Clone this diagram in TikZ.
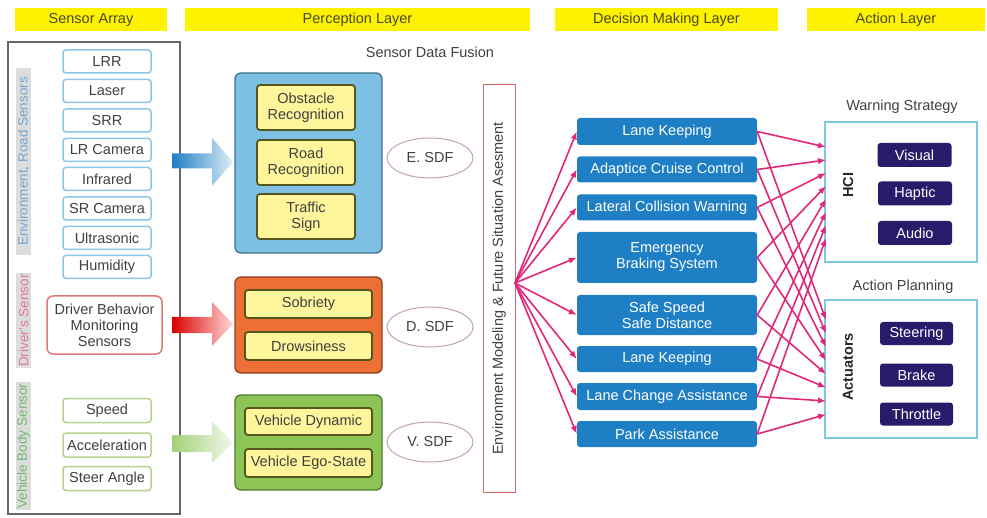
\documentclass[tikz,border=0pt]{standalone}
\usepackage{fontspec}
\setmainfont{Liberation Sans}
\usetikzlibrary{arrows.meta,shapes.geometric}
\definecolor{hdrY}{HTML}{FFF200}
\definecolor{hdrT}{HTML}{4A4A18}
\definecolor{txtG}{HTML}{404040}
\definecolor{sensB}{HTML}{8CC6E8}
\definecolor{drvB}{HTML}{E07878}
\definecolor{vehB}{HTML}{B4D48C}
\definecolor{stripG}{HTML}{DCDCDC}
\definecolor{envT}{HTML}{6FA8D8}
\definecolor{drvT}{HTML}{E07890}
\definecolor{vehT}{HTML}{70B870}
\definecolor{pBlue}{HTML}{7DC0E4}
\definecolor{pBlueB}{HTML}{3F6F8C}
\definecolor{pOr}{HTML}{EC7035}
\definecolor{pOrB}{HTML}{8A3E1E}
\definecolor{pGr}{HTML}{8CC556}
\definecolor{pGrB}{HTML}{4C7A30}
\definecolor{inY}{HTML}{FFF59A}
\definecolor{inYB}{HTML}{55551E}
\definecolor{ellB}{HTML}{C4A4A4}
\definecolor{envB}{HTML}{D46A6A}
\definecolor{decB}{HTML}{1F7FC4}
\definecolor{actB}{HTML}{7EC8E3}
\definecolor{navy}{HTML}{2A1B6A}
\definecolor{pink}{HTML}{E0287A}
\begin{document}
\begin{tikzpicture}[x=1pt,y=-1pt,
  font=\fontsize{14.5}{16}\selectfont,
  hdr/.style={fill=hdrY, text=hdrT, inner sep=0pt, minimum height=23pt},
  sens/.style={draw=sensB, line width=1.5pt, rounded corners=3pt, fill=white,
    minimum width=88pt, minimum height=23pt, text=txtG, inner sep=0pt},
  vsens/.style={sens, draw=vehB, minimum height=24pt},
  strip/.style={rotate=90, fill=stripG, minimum height=15pt, inner sep=0pt,
    font=\fontsize{13.5}{15}\selectfont},
  pbox/.style={rounded corners=6pt, line width=1.3pt},
  inbox/.style={draw=inYB, fill=inY, line width=1.8pt, rounded corners=3pt,
    text=txtG, align=center, inner sep=0pt},
  sdf/.style={ellipse, draw=ellB, line width=1pt, fill=white, minimum width=86pt,
    minimum height=40pt, inner sep=0pt, text=txtG},
  dec/.style={fill=decB, rounded corners=3pt, text=white, align=center,
    minimum width=180pt, inner sep=0pt},
  grp/.style={draw=actB, line width=1.5pt, fill=white},
  nav/.style={fill=navy, rounded corners=3pt, text=white, minimum width=74pt,
    minimum height=24pt, inner sep=0pt},
  parrow/.style={draw=pink, line width=1.6pt, -{Latex[length=8pt,width=6.5pt]}}
]
\useasboundingbox (0,0) rectangle (987,518);
% headers
\node[hdr, minimum width=152pt] (hsa) at (91,19.5) {Sensor Array};
\node[hdr, minimum width=345pt] (hpl) at (357.5,19.5) {Perception Layer};
\node[hdr, minimum width=223pt] (hdm) at (666.5,19.5) {Decision Making Layer};
\node[hdr, minimum width=178pt] (hal) at (896,19.5) {Action Layer};
% sensor array frame
\draw[draw=black!60, line width=1.2pt] (8,42) rectangle (180,514);
\node[strip, minimum width=187pt, text=envT] (senv) at (23.5,161.5) {Environment, Road Sensors};
\node[strip, minimum width=95pt, text=drvT] (sdrv) at (23.5,320.5) {Driver's Sensor};
\node[strip, minimum width=128pt, text=vehT] (sveh) at (23.5,446) {Vehicle Body Sensor};
\node[sens] (s1) at (107,61.5) {LRR};
\node[sens] (s2) at (107,91) {Laser};
\node[sens] (s3) at (107,120.5) {SRR};
\node[sens] (s4) at (107,150) {LR Camera};
\node[sens] (s5) at (107,179) {Infrared};
\node[sens] (s6) at (107,208.5) {SR Camera};
\node[sens] (s7) at (107,238) {Ultrasonic};
\node[sens] (s8) at (107,267) {Humidity};
\node[sens, draw=drvB, minimum width=115pt, minimum height=58pt, rounded corners=6pt, align=center] (drv) at (104.5,325) {Driver Behavior\\Monitoring\\Sensors};
\node[vsens] (v1) at (107,410.5) {Speed};
\node[vsens] (v2) at (107,445) {Acceleration};
\node[vsens] (v3) at (107,478.5) {Steer Angle};
% big shaded arrows
\shade[left color=decB, right color=decB!15] (172,153.5) -- (212,153.5) -- (212,138) -- (233,162) -- (212,186) -- (212,168.5) -- (172,168.5) -- cycle;
\shade[left color=red!85!black, right color=red!15] (172,317) -- (212,317) -- (212,302) -- (233,324) -- (212,346) -- (212,333) -- (172,333) -- cycle;
\shade[left color=pGr!80, right color=pGr!12] (172,435) -- (212,435) -- (212,422) -- (233,442.5) -- (212,463) -- (212,452) -- (172,452) -- cycle;
% perception
\node[text=txtG] (sdfl) at (430,52) {Sensor Data Fusion};
\draw[pbox, draw=pBlueB, fill=pBlue] (235,73) rectangle (382,253);
\node[inbox, minimum width=98pt, minimum height=45pt] (obs) at (306,107.5) {Obstacle\\Recognition};
\node[inbox, minimum width=98pt, minimum height=45pt] (road) at (306,162.5) {Road\\Recognition};
\node[inbox, minimum width=98pt, minimum height=45pt] (traf) at (306,216.5) {Traffic\\Sign};
\draw[pbox, draw=pOrB, fill=pOr] (235,277) rectangle (382,373);
\node[inbox, minimum width=127pt, minimum height=28pt] (sob) at (308.5,304) {Sobriety};
\node[inbox, minimum width=127pt, minimum height=28pt] (drow) at (308.5,346) {Drowsiness};
\draw[pbox, draw=pGrB, fill=pGr] (235,395) rectangle (382,490);
\node[inbox, minimum width=127pt, minimum height=27pt] (vdyn) at (308.5,421.5) {Vehicle Dynamic};
\node[inbox, minimum width=127pt, minimum height=28pt] (vego) at (308.5,463) {Vehicle Ego-State};
\node[sdf] (esdf) at (430,158) {E. SDF};
\node[sdf] (dsdf) at (430,327) {D. SDF};
\node[sdf] (vsdf) at (430,442) {V. SDF};
% environment modeling
\node[rotate=90, draw=envB, line width=1pt, fill=white, minimum width=407pt, minimum height=32pt, inner sep=0pt, text=txtG] (env) at (499,288.5) {Environment Modeling \& Future Situation Asesment};
\coordinate (fan) at (515,283);
% decision boxes
\node[dec, minimum height=27pt] (d1) at (667,131.5) {Lane Keeping};
\node[dec, minimum height=26pt] (d2) at (667,169.5) {Adaptice Cruise Control};
\node[dec, minimum height=26pt] (d3) at (667,207.5) {Lateral Collision Warning};
\node[dec, minimum height=51pt] (d4) at (667,257.5) {Emergency\\Braking System};
\node[dec, minimum height=40pt] (d5) at (667,315) {Safe Speed\\Safe Distance};
\node[dec, minimum height=26pt] (d6) at (667,359) {Lane Keeping};
\node[dec, minimum height=27pt] (d7) at (667,396.5) {Lane Change Assistance};
\node[dec, minimum height=26pt] (d8) at (667,434) {Park Assistance};
% action layer
\node[text=txtG] (wsl) at (902,107) {Warning Strategy};
\draw[grp] (825,122) rectangle (977,262);
\node[rotate=90, font=\fontsize{14.5}{16}\selectfont\bfseries, text=black!85] (hci) at (848,185) {HCI};
\node[nav] (vis) at (914.5,155) {Visual};
\node[nav] (hap) at (915,193.5) {Haptic};
\node[nav] (aud) at (915,233) {Audio};
\node[text=txtG] (apl) at (903,287) {Action Planning};
\draw[grp] (825,300) rectangle (977,438);
\node[rotate=90, font=\fontsize{14.5}{16}\selectfont\bfseries, text=black!85] (actu) at (848,367) {Actuators};
\node[nav, minimum width=73pt, minimum height=23pt] (ste) at (916.5,333.5) {Steering};
\node[nav, minimum width=73pt, minimum height=23pt] (bra) at (916.5,375) {Brake};
\node[nav, minimum width=73pt, minimum height=23pt] (thr) at (916.5,414) {Throttle};
% connectors
\foreach \i in {1,...,8} {
  \coordinate (h\i) at (826,{147+13*(\i-1)});
  \coordinate (a\i) at (826,{320+13.5*(\i-1)});
}
\foreach \i in {1,...,8} {
  \draw[parrow] (fan) -- (d\i.west);
  \draw[parrow] (d\i.east) -- (h\i);
  \draw[parrow] (d\i.east) -- (a\i);
}
\end{tikzpicture}
\end{document}
